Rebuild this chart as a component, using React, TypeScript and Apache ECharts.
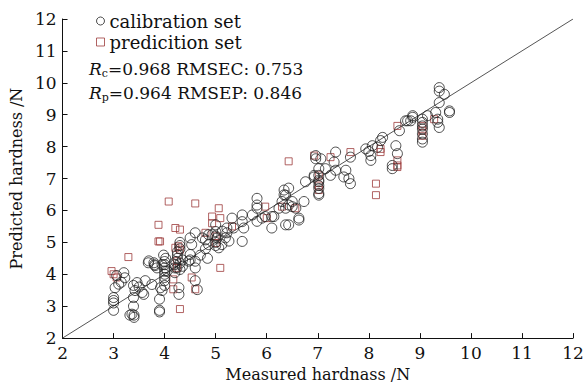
import React, { useEffect, useRef } from "react";
import * as echarts from "echarts";

const xTicks = [2, 3, 4, 5, 6, 7, 8, 9, 10, 11, 12];

const calibration: number[][] = [
  [3.0, 3.27], [3.0, 3.18], [3.0, 2.87], [3.0, 3.1], [3.03, 3.58], [3.1, 3.69], [3.06, 3.96], [3.2, 4.05], [3.22, 3.89], [3.15, 3.75],
  [3.32, 2.72], [3.36, 2.75], [3.4, 2.65], [3.4, 2.72], [3.39, 3.0], [3.39, 3.27], [3.42, 3.49], [3.39, 3.65], [3.46, 3.74], [3.56, 3.43], [3.59, 3.37], [3.62, 3.8], [3.5, 3.6],
  [3.69, 4.42], [3.79, 4.36], [3.81, 4.27], [3.75, 3.68], [3.85, 4.2], [3.9, 2.87], [3.9, 2.82], [3.9, 3.22], [3.92, 3.58], [3.95, 3.49], [3.68, 4.36], [3.8, 4.3], [3.95, 4.3],
  [4.0, 3.65], [4.0, 3.8], [4.0, 3.9], [4.0, 4.0], [4.0, 4.1], [4.0, 4.2], [4.0, 4.3], [4.0, 4.4], [4.02, 4.5], [4.05, 4.1], [3.98, 4.6],
  [4.2, 4.05], [4.2, 4.2], [4.2, 4.3], [4.22, 4.4], [4.25, 4.5], [4.25, 4.6], [4.25, 4.7], [4.3, 4.8], [4.3, 4.35], [4.3, 4.15], [4.28, 3.58], [4.28, 3.37], [4.3, 4.9], [4.3, 5.0], [4.35, 4.25], [4.35, 4.45], [4.24, 4.2],
  [4.5, 4.45], [4.5, 4.62], [4.47, 4.41], [4.53, 4.93], [4.5, 5.14], [4.6, 5.3], [4.6, 4.41], [4.6, 3.8], [4.64, 3.52], [4.6, 4.2], [4.7, 4.6], [4.74, 5.14], [4.84, 4.5], [4.86, 5.24], [4.8, 5.08], [4.86, 4.93], [4.8, 4.8],
  [4.93, 5.24], [5.0, 5.55], [5.0, 5.34], [5.0, 5.2], [5.03, 5.14], [5.06, 4.83], [5.12, 4.93], [5.13, 5.35], [5.19, 5.14], [5.22, 5.3], [5.22, 5.45], [5.26, 5.04], [5.32, 5.76], [5.35, 5.45], [5.0, 5.0], [5.0, 4.9],
  [5.52, 5.65], [5.52, 5.86], [5.52, 5.03], [5.55, 5.45], [5.72, 5.86], [5.81, 6.38], [5.81, 6.17], [5.81, 6.07], [5.81, 5.66], [5.91, 5.76], [5.97, 5.81], [6.1, 5.45], [6.14, 5.81], [6.1, 5.81],
  [6.24, 6.07], [6.3, 6.28], [6.34, 6.49], [6.34, 6.64], [6.37, 6.48], [6.43, 6.7], [6.43, 6.17], [6.5, 6.28], [6.5, 6.12], [6.57, 6.07], [6.63, 5.76], [6.63, 5.7], [6.73, 6.28], [6.76, 6.9], [6.43, 5.55], [6.37, 5.55], [6.37, 6.07],
  [6.93, 7.05], [6.96, 7.72], [6.96, 7.62], [7.02, 7.31], [7.02, 7.1], [7.02, 6.9], [7.02, 6.69], [7.02, 6.48], [7.02, 6.95], [7.02, 6.78], [7.02, 6.53], [7.06, 7.62], [6.93, 7.1],
  [7.15, 7.31], [7.25, 7.1], [7.32, 7.52], [7.35, 7.83], [7.35, 7.26], [7.51, 7.05], [7.55, 7.26], [7.61, 7.0], [7.64, 6.84], [7.64, 7.67],
  [7.94, 7.93], [8.04, 7.72], [8.04, 7.57], [8.07, 8.03], [8.17, 7.98], [8.23, 8.19], [8.27, 8.29], [8.46, 7.41], [8.46, 7.31], [8.53, 8.03], [8.56, 7.78], [8.6, 8.5], [8.0, 7.85],
  [8.76, 8.81], [8.86, 8.97], [8.72, 8.81], [8.82, 8.81], [8.86, 8.92], [9.05, 8.86], [9.05, 8.76], [9.05, 8.65], [9.05, 8.55], [9.05, 8.4], [9.05, 8.24], [9.05, 8.14], [9.15, 8.97], [9.35, 8.76], [9.38, 8.6], [9.35, 8.86], [9.38, 9.38], [9.31, 9.07], [9.38, 9.85], [9.38, 9.74], [9.48, 9.64], [9.58, 9.07], [9.58, 9.12],
];

const prediction: number[][] = [
  [2.96, 4.1], [3.0, 4.0], [3.06, 3.9], [3.29, 4.54], [3.88, 5.55], [3.88, 5.03], [3.91, 5.03], [4.08, 6.28], [4.6, 6.22], [4.21, 5.45], [4.3, 5.4], [4.27, 4.88], [4.3, 4.77], [4.21, 4.83], [4.24, 4.41], [4.24, 4.2], [4.17, 3.84], [4.17, 3.53], [4.3, 2.91], [4.53, 3.9], [4.6, 3.53],
  [4.8, 5.3], [4.93, 5.81], [4.93, 5.6], [5.06, 6.07], [5.09, 5.76], [5.0, 5.19], [5.0, 4.98], [5.09, 4.2], [5.32, 5.5], [5.97, 6.12], [6.0, 5.76], [6.3, 6.12], [6.43, 7.54], [6.56, 6.07],
  [6.93, 7.72], [7.02, 7.1], [7.02, 6.78], [7.02, 6.64], [7.25, 7.67], [7.64, 7.83], [8.14, 6.84], [8.14, 6.48], [8.23, 7.93], [8.23, 7.83], [8.56, 8.65], [8.56, 7.57], [8.56, 7.41], [8.56, 7.36], [9.05, 8.65], [9.05, 8.34], [9.28, 8.86], [9.05, 8.5],
];

const diagonal: number[][] = [[2, 2], [12, 12]];

const FONT = "DejaVu Serif";
const BLACK = "#222";
const RED = "#9e3c3c";

export default function App() {
  const ref = useRef<HTMLDivElement>(null);
  useEffect(() => {
    if (!ref.current) return;
    const chart = echarts.init(ref.current, undefined, { renderer: "svg" });
    chart.setOption({
      animation: false,
      backgroundColor: "#fff",
      textStyle: { fontFamily: FONT },
      grid: { left: 61, right: 14, top: 19, bottom: 46 },
      legend: {
        orient: "vertical",
        left: 96,
        top: 12,
        padding: 0,
        itemGap: 3,
        itemWidth: 8,
        itemHeight: 8,
        textStyle: { fontFamily: FONT, fontSize: 18, color: "#111", padding: [0, 0, 0, 0] },
        data: [
          { name: "calibration set", icon: "circle", itemStyle: { color: "transparent", borderColor: BLACK, borderWidth: 1 } },
          { name: "predicition set", icon: "rect", itemStyle: { color: "transparent", borderColor: RED, borderWidth: 1 } },
        ],
      },
      xAxis: {
        type: "value",
        min: xTicks[0],
        max: xTicks[xTicks.length - 1],
        interval: 1,
        name: "Measured hardnass /N",
        nameLocation: "middle",
        nameGap: 26,
        nameTextStyle: { fontFamily: FONT, fontSize: 16, color: "#111" },
        axisLine: { lineStyle: { color: "#111", width: 1 } },
        axisTick: { inside: true, length: 5, lineStyle: { color: "#111" } },
        axisLabel: { fontFamily: FONT, fontSize: 17, color: "#111", margin: 6 },
        splitLine: { show: false },
      },
      yAxis: {
        type: "value",
        min: xTicks[0],
        max: xTicks[xTicks.length - 1],
        interval: 1,
        name: "Predicted hardness /N",
        nameLocation: "middle",
        nameGap: 33,
        nameTextStyle: { fontFamily: FONT, fontSize: 16, color: "#111" },
        axisLine: { show: true, lineStyle: { color: "#111", width: 1 } },
        axisTick: { show: true, inside: true, length: 5, lineStyle: { color: "#111" } },
        axisLabel: { fontFamily: FONT, fontSize: 17, color: "#111", margin: 6 },
        splitLine: { show: false },
      },
      series: [
        {
          name: "fit",
          type: "line",
          data: diagonal,
          showSymbol: false,
          lineStyle: { color: "#555", width: 1 },
          silent: true,
          z: 1,
        },
        {
          name: "calibration set",
          type: "scatter",
          data: calibration,
          symbol: "circle",
          symbolSize: 10,
          itemStyle: { color: "transparent", borderColor: BLACK, borderWidth: 1 },
          z: 3,
        },
        {
          name: "predicition set",
          type: "scatter",
          data: prediction,
          symbol: "rect",
          symbolSize: 7,
          itemStyle: { color: "transparent", borderColor: RED, borderWidth: 1 },
          z: 2,
        },
      ],
      graphic: [
        {
          type: "text",
          left: 89,
          top: 60,
          style: {
            text: "{i|R}{s|c}=0.968 RMSEC: 0.753",
            fontFamily: FONT,
            fontSize: 17,
            fill: "#111",
            rich: {
              i: { fontFamily: FONT, fontStyle: "italic", fontSize: 17, fill: "#111" },
              s: { fontFamily: FONT, fontSize: 11, fill: "#111", verticalAlign: "bottom", padding: [9, 0, 0, 0] },
            },
          },
        },
        {
          type: "text",
          left: 89,
          top: 84,
          style: {
            text: "{i|R}{s|p}=0.964 RMSEP: 0.846",
            fontFamily: FONT,
            fontSize: 17,
            fill: "#111",
            rich: {
              i: { fontFamily: FONT, fontStyle: "italic", fontSize: 17, fill: "#111" },
              s: { fontFamily: FONT, fontSize: 11, fill: "#111", verticalAlign: "bottom", padding: [9, 0, 0, 0] },
            },
          },
        },
      ],
    });
    return () => chart.dispose();
  }, []);
  return (
    <div
      ref={ref}
      style={{ position: "absolute", left: 0, top: 0, width: 587, height: 387 }}
    />
  );
}
